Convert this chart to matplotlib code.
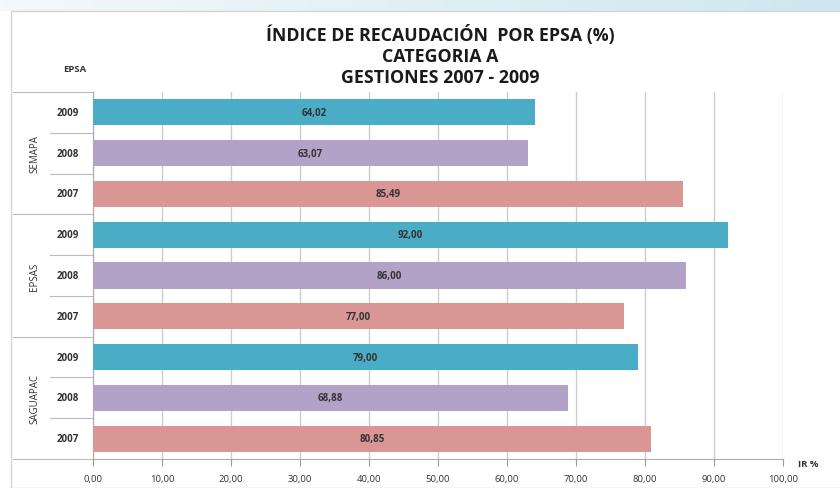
import numpy as np
import matplotlib.pyplot as plt
from matplotlib.patches import Rectangle
import matplotlib.transforms as mtransforms

plt.rcParams['font.family'] = ['Open Sans', 'DejaVu Sans']

# === Data ===
epsas = ["SEMAPA", "EPSAS", "SAGUAPAC"]
years = ["2009", "2008", "2007"]
values = {
    "SEMAPA": [64.02, 63.07, 85.49],
    "EPSAS": [92.00, 86.00, 77.00],
    "SAGUAPAC": [79.00, 68.88, 80.85],
}
year_colors = {"2009": "#4bacc6", "2008": "#b3a2c7", "2007": "#d99694"}
xticks = np.arange(0, 101, 10)

fig = plt.figure(figsize=(8.4, 4.89), dpi=100)

# light blue band at the top of the slide
band = fig.add_axes([0, 0.975, 1, 0.025])
grad = np.linspace(0, 1, 256).reshape(1, -1)
band.imshow(grad, aspect="auto", cmap=plt.matplotlib.colors.LinearSegmentedColormap.from_list(
    "b", ["#f4f9fb", "#cfe6ee"]))
band.axis("off")

# chart area frame
fig.patches.append(Rectangle((11 / 840, 0.0), 1.2, 1 - 12 / 489, transform=fig.transFigure,
                             fill=False, ec="#d4d4d4", lw=1.0))

ax = fig.add_axes([93 / 840, 1 - 460 / 489, 690 / 840, 367 / 489])

n = len(epsas) * len(years)
ypos = []
vals = []
cols = []
labels = []
k = n - 1
for e in epsas:
    for i, yr in enumerate(years):
        ypos.append(k)
        vals.append(values[e][i])
        cols.append(year_colors[yr])
        labels.append(yr)
        k -= 1

ax.barh(ypos, vals, height=0.64, color=cols, zorder=3)
for y, v in zip(ypos, vals):
    ax.text(v / 2, y, f"{v:.2f}".replace(".", ","), ha="center", va="center",
            fontsize=7, fontweight="bold", color="#333333", zorder=4)

ax.set_xlim(0, 100)
ax.set_ylim(-0.5, n - 0.5)
ax.set_xticks(xticks)
ax.set_xticklabels([f"{t:.2f}".replace(".", ",") for t in xticks], fontsize=6.8,
                   color="#333333")
ax.tick_params(axis="x", length=5, color="#999999", pad=6)
ax.set_yticks([])
ax.grid(axis="x", color="#cccccc", lw=1.0, zorder=0)
for s in ["top", "right"]:
    ax.spines[s].set_visible(False)
for s in ["left", "bottom"]:
    ax.spines[s].set_color("#aaaaaa")

# category axis on the left: years, groups and separators
trans = mtransforms.blended_transform_factory(fig.transFigure, ax.transData)
for y, lab in zip(ypos, labels):
    ax.text(68 / 840, y, lab, transform=trans, ha="center", va="center",
            fontsize=7, fontweight="bold", color="#333333")
for j, e in enumerate(epsas):
    top = n - 0.5 - 3 * j
    ax.text(35 / 840, top - 1.5, e, transform=trans, ha="center", va="center",
            rotation=90, fontsize=7, color="#333333")
    ax.plot([13 / 840, 93 / 840], [top, top], transform=trans, color="#bbbbbb",
            lw=0.8, clip_on=False)
    for m in (1, 2):
        ax.plot([50 / 840, 93 / 840], [top - m, top - m], transform=trans,
                color="#bbbbbb", lw=0.8, clip_on=False)
ax.plot([13 / 840, 93 / 840], [-0.5, -0.5], transform=trans, color="#bbbbbb",
        lw=0.8, clip_on=False)

title_kw = dict(ha="center", va="center", fontsize=12.8, fontweight="bold", color="#1a1a1a")
fig.text(440 / 840, 1 - 35 / 489, "ÍNDICE DE RECAUDACIÓN  POR EPSA (%)", **title_kw)
fig.text(440 / 840, 1 - 57 / 489, "CATEGORIA A", **title_kw)
fig.text(440 / 840, 1 - 78 / 489, "GESTIONES 2007 - 2009", **title_kw)
fig.text(75 / 840, 1 - 70 / 489, "EPSA", ha="center", va="center", fontsize=6.8,
         fontweight="bold", color="#333333")
fig.text(808 / 840, 1 - 465 / 489, "IR %", ha="center", va="center", fontsize=6.8,
         fontweight="bold", color="#333333")

fig.savefig("out.png", dpi=100)
